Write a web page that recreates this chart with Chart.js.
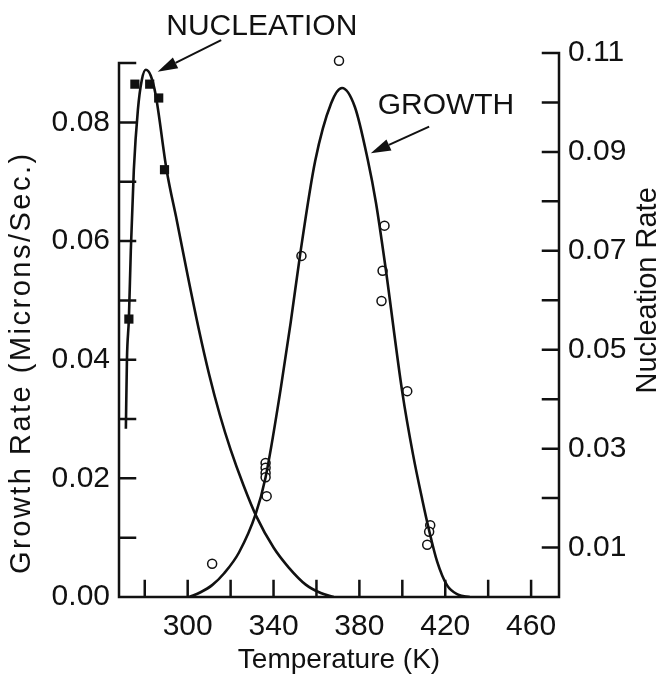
<!DOCTYPE html>
<html>
<head>
<meta charset="utf-8">
<script src="https://cdn.jsdelivr.net/npm/chart.js@4.4.0/dist/chart.umd.min.js"></script>
<style>
  html, body { margin: 0; padding: 0; background: #fff; }
</style>
</head>
<body>
<canvas id="chart" width="666" height="677"></canvas>
<script>
// nucleation rate (right axis): measured squares and the drawn fit
const nucTemp = [272.6, 275.4, 282.3, 286.5, 289.2];
const nucRate = [0.0562, 0.1037, 0.1037, 0.1009, 0.0864];
const nucCurveTemp = [271.2, 271.7, 272.6, 273.5, 274.9, 276.8, 278.6, 280.5, 282.8, 285.1, 290.2, 295.0, 300.0, 305.0, 310.0, 315.0, 320.0, 326.0, 332.0, 340.0, 347.0, 355.0, 362.0, 368.0];
const nucCurveRate = [0.034, 0.048, 0.0562, 0.070, 0.0863, 0.0985, 0.1045, 0.1066, 0.1054, 0.1015, 0.0863, 0.0760, 0.0650, 0.0545, 0.0450, 0.0368, 0.0298, 0.0226, 0.0163, 0.0100, 0.0060, 0.0025, 0.0008, 0];

// growth rate (left axis): measured circles and the drawn fit
const growthTemp = [311.4, 336.3, 336.3, 336.3, 336.3, 336.8, 353.0, 370.5, 391.7, 390.8, 390.3, 402.3, 413.0, 412.5, 411.6];
const growthRate = [0.0056, 0.0226, 0.0218, 0.0209, 0.0202, 0.0170, 0.0575, 0.0904, 0.0626, 0.0550, 0.0499, 0.0347, 0.0121, 0.0110, 0.0088];
const growthCurveTemp = [300.8, 306.0, 311.4, 317.0, 323.9, 331.7, 336.3, 343.3, 348.0, 352.5, 359.4, 366.8, 371.9, 377.9, 383.9, 387.7, 392.0, 400.0, 405.0, 409.3, 412.5, 416.2, 420.8, 426.0, 431.4];
const growthCurveRate = [0, 0.0008, 0.0020, 0.0040, 0.0075, 0.0140, 0.0202, 0.0350, 0.0463, 0.0580, 0.0735, 0.0832, 0.0858, 0.0826, 0.0737, 0.0665, 0.0560, 0.0345, 0.0240, 0.0164, 0.0112, 0.0060, 0.0020, 0.0004, 0];

// tick labels and tick marks
const tempLabels = [300, 340, 380, 420, 460];
const tempMarks = [280, 300, 320, 340, 360, 380, 400, 420, 440, 460];
const growthLabels = [0, 0.02, 0.04, 0.06, 0.08];
const growthMarks = [0.01, 0.02, 0.03, 0.04, 0.05, 0.06, 0.07, 0.08, 0.09];
const nucLabels = [0.01, 0.03, 0.05, 0.07, 0.09, 0.11];
const nucMarks = [0.01, 0.02, 0.03, 0.04, 0.05, 0.06, 0.07, 0.08, 0.09, 0.10, 0.11];

const ink = '#111';
const family = '"Liberation Sans", Arial, Helvetica, sans-serif';

function pairs(xs, ys) {
  return xs.map(function (x, i) { return { x: x, y: ys[i] }; });
}

function arrow(ctx, x1, y1, x2, y2) {
  const ang = Math.atan2(y2 - y1, x2 - x1);
  const len = 20, half = 6;
  const bx = x2 - len * Math.cos(ang), by = y2 - len * Math.sin(ang);
  ctx.beginPath();
  ctx.moveTo(x1, y1);
  ctx.lineTo(bx, by);
  ctx.stroke();
  ctx.beginPath();
  ctx.moveTo(x2, y2);
  ctx.lineTo(bx + half * Math.sin(ang), by - half * Math.cos(ang));
  ctx.lineTo(bx - half * Math.sin(ang), by + half * Math.cos(ang));
  ctx.closePath();
  ctx.fill();
}

function vertical(ctx, text, x, y) {
  ctx.save();
  ctx.translate(x, y);
  ctx.rotate(-Math.PI / 2);
  ctx.fillText(text, 0, 0);
  ctx.restore();
}

// axis lines with inward ticks, side titles and the two callouts
const frame = {
  id: 'frame',
  afterDraw: function (chart) {
    const ctx = chart.ctx;
    const x = chart.scales.x, yg = chart.scales.yGrowth, yn = chart.scales.yNuc;
    const a = chart.chartArea;
    const tl = 16;
    ctx.save();
    ctx.strokeStyle = ink;
    ctx.fillStyle = ink;
    ctx.lineWidth = 2.5;
    ctx.lineCap = 'square';

    ctx.beginPath();
    ctx.moveTo(a.left, a.bottom);
    ctx.lineTo(a.right, a.bottom);
    tempMarks.forEach(function (v) {
      const px = x.getPixelForValue(v);
      ctx.moveTo(px, a.bottom);
      ctx.lineTo(px, a.bottom - tl);
    });
    ctx.moveTo(a.left, a.bottom);
    ctx.lineTo(a.left, yg.getPixelForValue(0.09));
    growthMarks.forEach(function (v) {
      const py = yg.getPixelForValue(v);
      ctx.moveTo(a.left, py);
      ctx.lineTo(a.left + tl, py);
    });
    ctx.moveTo(a.right, a.bottom);
    ctx.lineTo(a.right, yn.getPixelForValue(0.11));
    nucMarks.forEach(function (v) {
      const py = yn.getPixelForValue(v);
      ctx.moveTo(a.right, py);
      ctx.lineTo(a.right - tl, py);
    });
    ctx.stroke();

    ctx.textAlign = 'center';
    ctx.textBaseline = 'middle';
    ctx.font = '29px ' + family;
    vertical(ctx, 'Nucleation Rate', chart.width - 18, yn.getPixelForValue(0.062));
    ctx.letterSpacing = '2.5px';
    vertical(ctx, 'Growth Rate (Microns/Sec.)', 22, yg.getPixelForValue(0.0395));
    ctx.letterSpacing = '0px';

    ctx.font = '30px ' + family;
    ctx.textAlign = 'left';
    ctx.textBaseline = 'alphabetic';
    ctx.fillText('NUCLEATION', x.getPixelForValue(290.0), yn.getPixelForValue(0.1137));
    ctx.fillText('GROWTH', x.getPixelForValue(388.5), yg.getPixelForValue(0.0815));

    ctx.lineWidth = 2;
    ctx.lineCap = 'butt';
    arrow(ctx, x.getPixelForValue(315.6), yn.getPixelForValue(0.1126),
      x.getPixelForValue(286), yn.getPixelForValue(0.1062));
    arrow(ctx, x.getPixelForValue(412.5), yg.getPixelForValue(0.0793),
      x.getPixelForValue(385.3), yg.getPixelForValue(0.0748));
    ctx.restore();
  }
};

const tickFont = { size: 30, family: family };

new Chart(document.getElementById('chart').getContext('2d'), {
  type: 'scatter',
  data: {
    datasets: [
      {
        label: 'Nucleation fit',
        type: 'line',
        data: pairs(nucCurveTemp, nucCurveRate),
        yAxisID: 'yNuc',
        borderColor: ink,
        borderWidth: 2.6,
        pointRadius: 0,
        cubicInterpolationMode: 'monotone',
        fill: false
      },
      {
        label: 'Nucleation',
        data: pairs(nucTemp, nucRate),
        yAxisID: 'yNuc',
        pointStyle: 'rect',
        pointRadius: 6.5,
        backgroundColor: ink,
        borderColor: ink,
        borderWidth: 0
      },
      {
        label: 'Growth fit',
        type: 'line',
        data: pairs(growthCurveTemp, growthCurveRate),
        yAxisID: 'yGrowth',
        borderColor: ink,
        borderWidth: 2.6,
        pointRadius: 0,
        cubicInterpolationMode: 'monotone',
        fill: false
      },
      {
        label: 'Growth',
        data: pairs(growthTemp, growthRate),
        yAxisID: 'yGrowth',
        pointStyle: 'circle',
        pointRadius: 4.5,
        backgroundColor: '#fff',
        borderColor: ink,
        borderWidth: 1.5
      }
    ]
  },
  options: {
    responsive: false,
    animation: false,
    layout: { padding: { top: 53, left: 0, right: 0, bottom: 0 } },
    plugins: { legend: { display: false }, tooltip: { enabled: false } },
    scales: {
      x: {
        type: 'linear',
        min: 268,
        max: 473,
        afterBuildTicks: function (s) { s.ticks = tempLabels.map(function (v) { return { value: v }; }); },
        afterFit: function (s) { s.height = 80; },
        grid: { display: false, drawTicks: false },
        border: { display: false },
        ticks: { color: ink, font: tickFont, padding: 12, maxRotation: 0 },
        title: { display: true, text: 'Temperature (K)', color: ink, font: { size: 28, family: family }, padding: 0 }
      },
      yGrowth: {
        position: 'left',
        min: 0,
        max: 0.0917,
        afterBuildTicks: function (s) { s.ticks = growthLabels.map(function (v) { return { value: v }; }); },
        afterFit: function (s) { s.width = 119; },
        grid: { display: false, drawTicks: false },
        border: { display: false },
        ticks: { color: ink, font: tickFont, padding: 9, callback: function (v) { return v.toFixed(2); } }
      },
      yNuc: {
        position: 'right',
        min: 0,
        max: 0.11,
        afterBuildTicks: function (s) { s.ticks = nucLabels.map(function (v) { return { value: v }; }); },
        afterFit: function (s) { s.width = 107; },
        grid: { display: false, drawTicks: false },
        border: { display: false },
        ticks: { color: ink, font: tickFont, padding: 9, callback: function (v) { return v.toFixed(2); } }
      }
    }
  },
  plugins: [frame]
});
</script>
</body>
</html>
